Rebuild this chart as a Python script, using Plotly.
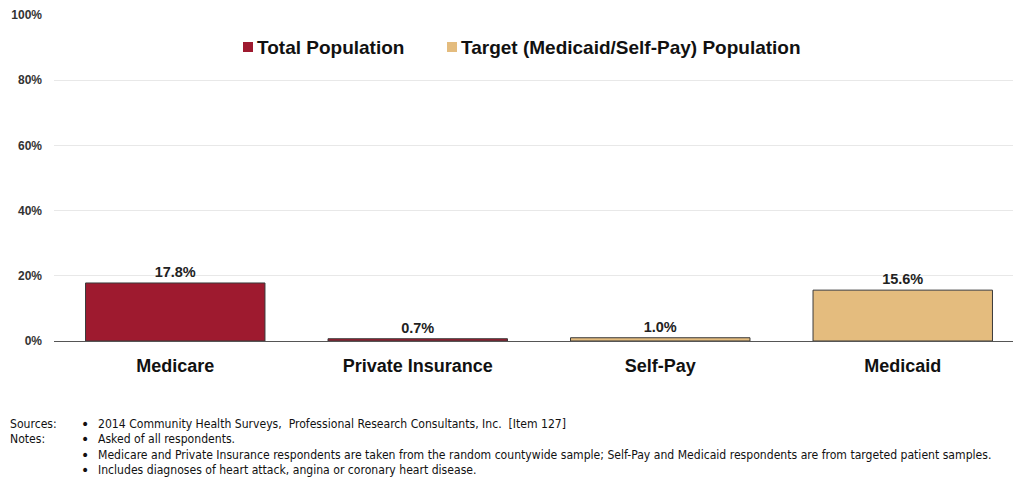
import plotly.graph_objects as go

# Prevalence of heart disease by payer group
categories = ["Medicare", "Private Insurance", "Self-Pay", "Medicaid"]
total_cats = ["Medicare", "Private Insurance"]
total_vals = [17.8, 0.7]
target_cats = ["Self-Pay", "Medicaid"]
target_vals = [1.0, 15.6]
series_names = ["Total Population", "Target (Medicaid/Self-Pay) Population"]
y_ticks = [0, 20, 40, 60, 80, 100]
y_tick_labels = ["0%", "20%", "40%", "60%", "80%", "100%"]

RED = "#9E1A2F"
TAN = "#E4BC7E"
W, H = 1013, 488
ML, MT, MB = 54, 15, 147
plot_w = W - ML
plot_h = H - MT - MB

label_font = dict(family="Liberation Sans", size=14.5, color="#222", weight="bold")

fig = go.Figure()
fig.add_trace(go.Bar(
    x=total_cats, y=total_vals, name=series_names[0],
    marker=dict(color=RED, line=dict(color="#3a3a3a", width=1)),
    width=0.74,
    text=[f"{v:.1f}%" for v in total_vals], textposition="outside",
    textfont=label_font, cliponaxis=False,
))
fig.add_trace(go.Bar(
    x=target_cats, y=target_vals, name=series_names[1],
    marker=dict(color=TAN, line=dict(color="#3a3a3a", width=1)),
    width=0.74,
    text=[f"{v:.1f}%" for v in target_vals], textposition="outside",
    textfont=label_font, cliponaxis=False,
))

def px_x(px):
    return (px - ML) / plot_w

def px_y(py):
    return 1 - (py - MT) / plot_h

# Legend drawn as swatches + labels across the top of the plot
shapes = []
annotations = []
legend_font = dict(family="Liberation Sans", size=19, color="#111", weight="bold")
for name, color, sx in zip(series_names, [RED, TAN], [243, 447]):
    shapes.append(dict(type="rect", xref="paper", yref="paper",
                       x0=px_x(sx), x1=px_x(sx + 10), y0=px_y(52), y1=px_y(42),
                       fillcolor=color, line=dict(width=0)))
    annotations.append(dict(x=px_x(sx + 12), y=px_y(47), xref="paper", yref="paper",
                            text=name, showarrow=False, xanchor="left", yanchor="middle",
                            font=legend_font))

notes = [
    ("Sources:", "2014 Community Health Surveys,  Professional Research Consultants, Inc.  [Item 127]"),
    ("Notes:", "Asked of all respondents."),
    ("", "Medicare and Private Insurance respondents are taken from the random countywide sample; Self-Pay and Medicaid respondents are from targeted patient samples."),
    ("", "Includes diagnoses of heart attack, angina or coronary heart disease."),
]
note_font = dict(family="Liberation Sans Narrow, Arial Narrow, DejaVu Sans Condensed, sans-serif", size=12.1, color="#111")
for i, (head, body) in enumerate(notes):
    yp = px_y(424 + i * 15.3)
    if head:
        annotations.append(dict(x=px_x(8), y=yp, xref="paper", yref="paper",
                                text=head, showarrow=False, xanchor="left", yanchor="middle",
                                font=note_font))
    annotations.append(dict(x=px_x(79), y=yp, xref="paper", yref="paper",
                            text="\u2022", showarrow=False, xanchor="left", yanchor="middle",
                            font=dict(family="DejaVu Sans", size=14, color="#111")))
    annotations.append(dict(x=px_x(96), y=yp, xref="paper", yref="paper",
                            text=body, showarrow=False, xanchor="left", yanchor="middle",
                            font=note_font))

fig.update_layout(
    width=W, height=H,
    margin=dict(l=ML, r=0, t=MT, b=MB, pad=0),
    paper_bgcolor="white", plot_bgcolor="white",
    barmode="overlay",
    showlegend=False,
    font=dict(family="Liberation Sans"),
    shapes=shapes,
    annotations=annotations,
)
fig.update_xaxes(
    categoryorder="array", categoryarray=categories,
    range=[-0.5, -0.5 + plot_w / 242.5],
    showgrid=False, showline=False, ticks="",
    tickfont=dict(family="Liberation Sans", size=18, color="#111", weight="bold"),
    ticklabelstandoff=12,
)
fig.update_yaxes(
    range=[0, 100], tickvals=y_ticks, ticktext=y_tick_labels,
    showgrid=True, gridcolor="#e8e8e8", gridwidth=1,
    zeroline=True, zerolinecolor="#555", zerolinewidth=1,
    showline=False, ticks="",
    tickfont=dict(family="Liberation Sans", size=12, color="#333", weight="bold"),
    ticklabelstandoff=11,
)

fig.write_html("out.html")
